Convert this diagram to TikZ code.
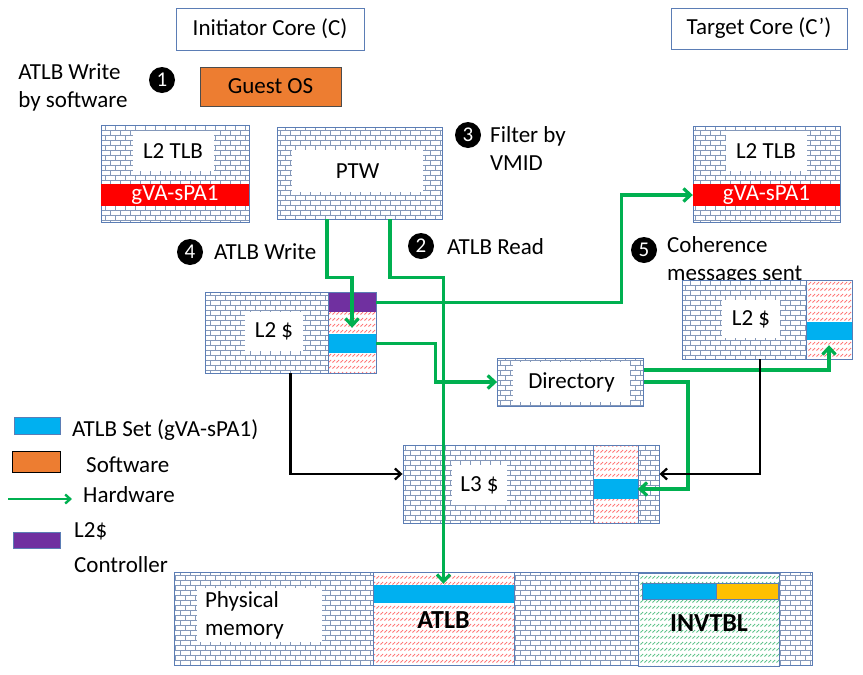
\documentclass[tikz,border=0pt]{standalone}
\usepackage{fontspec}
\setmainfont{Carlito}
\usepackage{tikz}
\usetikzlibrary{patterns}
\usetikzlibrary{arrows.meta}
\definecolor{frameblue}{HTML}{5B7DB5}
\definecolor{brickgrey}{HTML}{8498BA}
\definecolor{hatchred}{HTML}{FF6A6A}
\definecolor{hatchgreen}{HTML}{4FBE80}
\definecolor{atlbblue}{HTML}{00B0F0}
\definecolor{sworange}{HTML}{ED7D31}
\definecolor{ctrlpurple}{HTML}{7030A0}
\definecolor{tlbred}{HTML}{FF0000}
\definecolor{hwgreen}{HTML}{00B050}
\definecolor{tblgold}{HTML}{FFC000}
\pgfdeclarepatternformonly{brickwall}{\pgfqpoint{-0.5pt}{-0.5pt}}{\pgfqpoint{10.5pt}{10.5pt}}{\pgfqpoint{10pt}{10pt}}{%
\pgfsetlinewidth{0.7pt}
\pgfpathmoveto{\pgfqpoint{0pt}{0pt}}\pgfpathlineto{\pgfqpoint{10pt}{0pt}}
\pgfpathmoveto{\pgfqpoint{0pt}{5pt}}\pgfpathlineto{\pgfqpoint{10pt}{5pt}}
\pgfpathmoveto{\pgfqpoint{0pt}{0pt}}\pgfpathlineto{\pgfqpoint{0pt}{5pt}}
\pgfpathmoveto{\pgfqpoint{5pt}{5pt}}\pgfpathlineto{\pgfqpoint{5pt}{10pt}}
\pgfusepath{stroke}}
\pgfdeclarepatternformonly{dashhatch}{\pgfqpoint{-0.5pt}{-0.5pt}}{\pgfqpoint{4.5pt}{6.5pt}}{\pgfqpoint{4pt}{6pt}}{%
\pgfsetlinewidth{0.8pt}
\pgfpathmoveto{\pgfqpoint{0.5pt}{0.5pt}}\pgfpathlineto{\pgfqpoint{3.2pt}{3pt}}
\pgfusepath{stroke}}
\pgfdeclarelayer{nodelayer}
\pgfdeclarelayer{edgelayer}
\pgfsetlayers{nodelayer,edgelayer,main}
\tikzstyle{none}=[inner sep=0pt]
\tikzset{core/.style={draw=frameblue, line width=0.9pt, fill=white, inner sep=0pt}}
\tikzset{wall/.style={draw=frameblue, line width=0.9pt, preaction={fill=white}, pattern=brickwall, pattern color=brickgrey, inner sep=0pt}}
\tikzset{pane/.style={fill=white, inner sep=0pt}}
\tikzset{hatch/.style={draw=frameblue, line width=0.7pt, preaction={fill=white}, pattern=dashhatch, pattern color=#1, inner sep=0pt}}
\tikzset{slot/.style={inner sep=0pt, fill=#1}}
\tikzset{num/.style={circle, fill=black, text=white, minimum size=26pt, inner sep=0pt, font=\fontsize{21}{21}\selectfont}}
\tikzset{hw/.style={draw=hwgreen, line width=3.2pt, -{Straight Barb[length=7pt,width=13pt]}}}
\tikzset{sw/.style={draw=black, line width=2.2pt, -{Straight Barb[length=6pt,width=11pt]}}}

\begin{document}
\begin{tikzpicture}[x=1pt, y=-1pt, font=\fontsize{23}{28}\selectfont]
        \useasboundingbox (0,0) rectangle (863,675);
        \begin{pgfonlayer}{nodelayer}
            % cores and numbered steps
            \node [style=core, minimum width=188pt, minimum height=42pt] (0) at (270, 29) {Initiator Core (C)};
            \node [style=core, minimum width=176pt, minimum height=41pt] (1) at (759, 28.5) {Target Core (C’)};
            \node [style=none, align=left] (2) at (73, 87) {ATLB Write\\by software};
            \node [style=num] (3) at (162, 80) {1};
            \node [style=none, draw=black!70, fill=sworange, line width=0.9pt, minimum width=141pt, minimum height=39pt] (4) at (270.5, 86.5) {Guest OS};
            % left L2 TLB
            \node [style=wall, minimum width=148pt, minimum height=97pt] (5) at (175, 173.5) {};
            \node [style=pane, minimum width=81pt, minimum height=40pt] (6) at (173, 151) {L2 TLB};
            \node [slot=tlbred, text=white, minimum width=148pt, minimum height=22pt] (7) at (175, 195) {gVA-sPA1};
            % PTW
            \node [style=wall, minimum width=165pt, minimum height=92pt] (8) at (359.5, 173) {};
            \node [style=pane, minimum width=131pt, minimum height=42pt] (9) at (357.5, 171) {PTW};
            \node [style=num] (10) at (468, 135) {3};
            \node [style=none, anchor=west, align=left] (11) at (490, 149) {Filter by\\VMID};
            % right L2 TLB
            \node [style=wall, minimum width=147pt, minimum height=96pt] (12) at (766.5, 174) {};
            \node [style=pane, minimum width=81pt, minimum height=40pt] (13) at (766, 151) {L2 TLB};
            \node [slot=tlbred, text=white, minimum width=147pt, minimum height=22pt] (14) at (766.5, 195) {gVA-sPA1};
            % step labels
            \node [style=num] (15) at (421, 246) {2};
            \node [style=none, anchor=west] (16) at (447, 247) {ATLB Read};
            \node [style=num] (17) at (190, 252) {4};
            \node [style=none, anchor=west] (18) at (214, 252) {ATLB Write};
            \node [style=num] (19) at (644, 250) {5};
            \node [style=none, anchor=west, align=left] (20) at (667, 260) {Coherence\\messages sent};
            % left L2 cache
            \node [style=wall, minimum width=171pt, minimum height=81pt] (21) at (290.5, 332.5) {};
            \node [hatch=hatchred, minimum width=48pt, minimum height=81pt] (22) at (352, 332.5) {};
            \node [slot=ctrlpurple, minimum width=47pt, minimum height=19pt] (23) at (352, 302.5) {};
            \node [slot=atlbblue, minimum width=47pt, minimum height=19pt] (24) at (352, 343.5) {};
            \node [style=pane, minimum width=58pt, minimum height=39pt] (25) at (274, 331.5) {L2 \$};
            % directory
            \node [style=wall, minimum width=146pt, minimum height=48pt] (26) at (570.5, 382) {};
            \node [style=pane, minimum width=117pt, minimum height=40pt] (27) at (571.5, 382) {Directory};
            % right L2 cache
            \node [style=wall, minimum width=170pt, minimum height=79pt] (28) at (767, 319.5) {};
            \node [hatch=hatchred, minimum width=46pt, minimum height=79pt] (29) at (829, 319.5) {};
            \node [slot=atlbblue, minimum width=45pt, minimum height=18pt] (30) at (829, 331) {};
            \node [style=pane, minimum width=58pt, minimum height=38pt] (31) at (751, 319) {L2 \$};
            % L3 cache
            \node [style=wall, minimum width=256pt, minimum height=78pt] (32) at (531, 484) {};
            \node [hatch=hatchred, minimum width=45pt, minimum height=78pt] (33) at (615.5, 484) {};
            \node [slot=atlbblue, minimum width=44pt, minimum height=20pt] (34) at (615.5, 489) {};
            \node [style=pane, minimum width=55pt, minimum height=40pt] (35) at (479.5, 485) {L3 \$};
            % physical memory
            \node [style=wall, minimum width=638pt, minimum height=93pt] (36) at (493, 618.5) {};
            \node [style=pane, minimum width=125pt, minimum height=54pt, text width=109pt, align=left] (37) at (259.5, 615) {Physical\\memory};
            \node [hatch=hatchred, minimum width=141pt, minimum height=93pt] (38) at (443.5, 618.5) {};
            \node [slot=atlbblue, minimum width=140pt, minimum height=18pt] (39) at (443.5, 594) {};
            \node [style=none, font=\fontsize{26}{26}\selectfont\bfseries] (40) at (443.5, 620) {ATLB};
            \node [hatch=hatchgreen, minimum width=141pt, minimum height=93pt] (41) at (708.5, 619.5) {};
            \node [slot=atlbblue, draw=frameblue, line width=0.5pt, minimum width=74pt, minimum height=16pt] (42) at (679, 591) {};
            \node [slot=tblgold, draw=frameblue, line width=0.5pt, minimum width=62pt, minimum height=16pt] (43) at (747, 591) {};
            \node [style=none, font=\fontsize{26}{26}\selectfont\bfseries] (44) at (709, 623) {INVTBL};
            % legend
            \node [slot=atlbblue, draw=frameblue, line width=0.9pt, minimum width=46pt, minimum height=17pt] (45) at (37, 426) {};
            \node [style=none, anchor=west] (46) at (72, 430) {ATLB Set (gVA-sPA1)};
            \node [slot=sworange, draw=black, line width=0.9pt, minimum width=48pt, minimum height=21pt] (47) at (36, 462) {};
            \node [style=none, anchor=west] (48) at (86, 465) {Software};
            \coordinate (49) at (8, 499);
            \coordinate (50) at (72, 499);
            \node [style=none, anchor=west] (51) at (83, 495) {Hardware};
            \node [slot=ctrlpurple, draw=frameblue, line width=0.9pt, minimum width=47pt, minimum height=16pt] (52) at (36.5, 540) {};
            \node [style=none, anchor=west, align=left, font=\fontsize{23}{35}\selectfont] (53) at (74, 548) {L2\$\\Controller};
        \end{pgfonlayer}
        \begin{pgfonlayer}{edgelayer}
            \draw [style=hw] ([xshift=-32.5pt]8.south) -- ++(0, 58) -| ([yshift=6pt]24.north);
            \draw [style=hw] ([xshift=30.5pt]8.south) -- ++(0, 58) -| ([yshift=1pt]39.north);
            \draw [style=hw] (23.east) -- ++(246, 0) |- (14.west);
            \draw [style=hw] (24.east) -- ++(60, 0) |- (26.west);
            \draw [style=hw] ([yshift=12pt]26.east) -| ([yshift=-5pt]30.south);
            \draw [style=hw] (26.east) -- ++(44, 0) |- (34.east);
            \draw [style=sw] (21.south) |- ([yshift=10pt]32.west);
            \draw [style=sw] ([xshift=-7pt]28.south) |- ([yshift=10pt]32.east);
            \draw [style=hw, line width=2.4pt, -{Straight Barb[length=5pt,width=9pt]}] (49) to (50);
        \end{pgfonlayer}
    \end{tikzpicture}
\end{document}
